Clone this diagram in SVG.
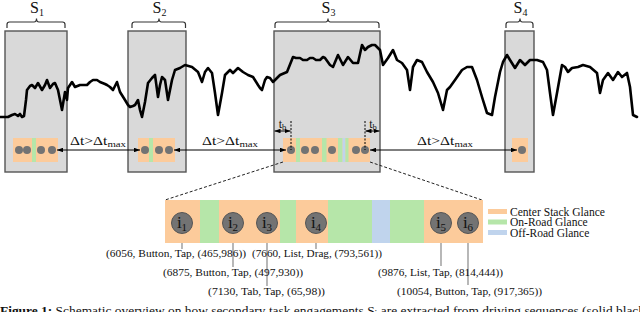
<svg xmlns="http://www.w3.org/2000/svg" width="640" height="312" viewBox="0 0 640 312">
<style>
.seg{fill:#d9d9d9;stroke:#555;stroke-width:1.4}
.brace{fill:none;stroke:#333;stroke-width:1.2}
.lbl{font-family:"Liberation Serif","DejaVu Serif",serif;fill:#111}
.sl{font-size:16px}
.sub{font-size:10px}
.or{fill:#fccb9b}
.gr{fill:#b6e6a9}
.bl{fill:#c0d4ed}
.sd{fill:#737373}
.bd{fill:#737373;stroke:#555;stroke-width:1}
.sig{fill:none;stroke:#000;stroke-width:2.6;stroke-linejoin:round;stroke-linecap:round}
.arr{stroke:#000;stroke-width:1;fill:none}
.dot{stroke:#000;stroke-width:1;stroke-dasharray:2 1.5;fill:none}
.dash{stroke:#222;stroke-width:1;stroke-dasharray:3 2;fill:none}
.con{stroke:#888;stroke-width:1.2;fill:none}
.t11{font-size:11px}
.tb{font-size:12px}
.dt{font-size:13px}
.leg{font-size:11.5px}
</style>
<defs>
<marker id="ah" viewBox="0 0 8 6" refX="8" refY="3" markerWidth="6" markerHeight="4.5" orient="auto-start-reverse" markerUnits="userSpaceOnUse">
<path d="M0,0 L8,3 L0,6 Z" fill="#000"/>
</marker>
</defs>
<rect width="640" height="312" fill="#fff"/>

<g id="S1">
<rect class="seg" x="5" y="31" width="62" height="141"/>
<path class="brace" d="M7,28 V24.5 Q7,22 9.5,22 H34 Q36.5,22 36.5,18.5 Q36.5,22 39,22 H62.5 Q65,22 65,24.5 V28"/>
<text class="lbl sl" x="37" y="13" text-anchor="middle">S<tspan class="sub" dy="3">1</tspan></text>
<rect class="or" x="13" y="138" width="45" height="24"/>
<rect class="gr" x="32" y="138" width="4" height="24"/>
<circle class="sd" cx="19" cy="150" r="4"/>
<circle class="sd" cx="27" cy="150" r="4"/>
<circle class="sd" cx="41" cy="150" r="4"/>
<circle class="sd" cx="52" cy="150" r="4"/>
</g>

<g id="S2">
<rect class="seg" x="128" y="31" width="58" height="141"/>
<path class="brace" d="M132,28 V24.5 Q132,22 134.5,22 H156.5 Q159,22 159,18.5 Q159,22 161.5,22 H183 Q185.5,22 185.5,24.5 V28"/>
<text class="lbl sl" x="159.5" y="13" text-anchor="middle">S<tspan class="sub" dy="3">2</tspan></text>
<rect class="or" x="138" y="138" width="37" height="24"/>
<rect class="gr" x="149" y="138" width="4" height="24"/>
<circle class="sd" cx="145" cy="150" r="4"/>
<circle class="sd" cx="159" cy="150" r="4"/>
<circle class="sd" cx="169" cy="150" r="4"/>
</g>

<g id="S3">
<rect class="seg" x="274" y="31" width="106" height="141"/>
<path class="brace" d="M275,28 V24.5 Q275,22 277.5,22 H325.5 Q328,22 328,18.5 Q328,22 330.5,22 H376.5 Q379,22 379,24.5 V28"/>
<text class="lbl sl" x="328.5" y="13" text-anchor="middle">S<tspan class="sub" dy="3">3</tspan></text>
<rect class="or" x="283" y="138" width="87" height="24"/>
<rect class="gr" x="296" y="138" width="4" height="24"/>
<rect class="gr" x="322" y="138" width="4.5" height="24"/>
<rect class="gr" x="338" y="138" width="4.5" height="24"/>
<rect class="bl" x="342.5" y="138" width="3" height="24"/>
<rect class="gr" x="345.5" y="138" width="3" height="24"/>
<circle class="sd" cx="291" cy="150" r="4"/>
<circle class="sd" cx="305" cy="150" r="4"/>
<circle class="sd" cx="315" cy="150" r="4"/>
<circle class="sd" cx="332" cy="150" r="4"/>
<circle class="sd" cx="356" cy="150" r="4"/>
<circle class="sd" cx="365" cy="150" r="4"/>
<line class="dot" x1="291" y1="121" x2="291" y2="150"/>
<line class="dot" x1="365" y1="121" x2="365" y2="150"/>
<text class="lbl tb" x="282.5" y="127.5" text-anchor="middle">t<tspan font-size="8.5" dy="2">b</tspan></text>
<text class="lbl tb" x="373" y="127.5" text-anchor="middle">t<tspan font-size="8.5" dy="2">b</tspan></text>
</g>

<g id="S4">
<rect class="seg" x="505" y="31" width="29" height="141"/>
<path class="brace" d="M506,28 V24.5 Q506,22 508.5,22 H517.5 Q520,22 520,18.5 Q520,22 522.5,22 H530.5 Q533,22 533,24.5 V28"/>
<text class="lbl sl" x="520.5" y="13" text-anchor="middle">S<tspan class="sub" dy="3">4</tspan></text>
<rect class="or" x="512" y="138" width="16" height="24"/>
<circle class="sd" cx="522" cy="150" r="4"/>
</g>

<g id="signal">
<polyline class="sig" points="0,117 8,117 12,115 15,114 18,116 20,114 22,117 24,116 26,100 27,90 30,86 32,85 35,88 38,83 42,90 45,85 47,80 50,88 53,84 55,83 58,90 60,100 62,110 65,92 67,100 68,88 72,82 75,87 80,85 87,85 90,82 93,80 97,80 100,82 105,84 107,85 110,87 113,90 115,86 117,82 120,92 125,100 128,105 130,107 133,106 135,105 138,100 140,110 142,117 145,102 148,83 152,78 155,75 158,97 160,85 162,77 165,80 168,100 170,90 172,80 175,70 180,68 185,65 192,67 198,72 202,82 205,72 208,68 212,73 215,93 218,115 222,93 225,75 230,70 233,73 238,68 243,72 248,75 253,77 258,85 260,88 262,90 265,80 267,77 270,78 273,82 275,80 280,75 287,72 293,57 296,58 300,58 303,60 307,60 310,58 313,58 316,60 320,60 323,57 325,58 330,65 333,67 338,55 343,65 348,57 353,63 358,63 362,45 365,50 368,47 372,45 375,45 380,50 383,65 388,58 393,50 397,60 402,63 407,70 410,90 413,67 417,60 422,62 427,72 433,82 438,93 443,110 447,90 450,87 455,80 462,70 467,67 472,67 477,80 482,97 487,113 492,115 495,97 500,72 503,62 507,55 510,60 515,68 520,60 525,65 530,60 537,60 543,62 547,70 550,93 553,115 557,93 562,65 565,67 568,72 572,68 578,67 583,65 590,67 597,73 600,93 603,80 608,73 613,80 618,72 622,77 627,73 630,87 633,115 637,117"/>
</g>

<g id="connectors">
<line class="arr" x1="57" y1="150" x2="140" y2="150" marker-start="url(#ah)" marker-end="url(#ah)"/>
<line class="arr" x1="174" y1="150" x2="286" y2="150" marker-start="url(#ah)" marker-end="url(#ah)"/>
<line class="arr" x1="370" y1="150" x2="517" y2="150" marker-start="url(#ah)" marker-end="url(#ah)"/>
<line class="arr" x1="274.5" y1="131" x2="290.5" y2="131" marker-start="url(#ah)" marker-end="url(#ah)"/>
<line class="arr" x1="365.5" y1="131" x2="379.5" y2="131" marker-start="url(#ah)" marker-end="url(#ah)"/>
<line class="dash" x1="283" y1="162" x2="165" y2="200"/>
<line class="dash" x1="370" y1="162" x2="482" y2="200"/>
<line class="con" x1="182" y1="233" x2="182" y2="249"/>
<line class="con" x1="233" y1="233" x2="233" y2="267"/>
<line class="con" x1="267" y1="233" x2="267" y2="286"/>
<line class="con" x1="316" y1="233" x2="316" y2="249"/>
<line class="con" x1="441" y1="233" x2="441" y2="266"/>
<line class="con" x1="468" y1="233" x2="468" y2="285"/>
</g>

<g id="dtlabels">
<text class="lbl dt" x="70" y="145" textLength="56" lengthAdjust="spacingAndGlyphs">Δt&gt;Δt<tspan font-size="9" dy="2">max</tspan></text>
<text class="lbl dt" x="202" y="145" textLength="56" lengthAdjust="spacingAndGlyphs">Δt&gt;Δt<tspan font-size="9" dy="2">max</tspan></text>
<text class="lbl dt" x="417" y="145" textLength="56" lengthAdjust="spacingAndGlyphs">Δt&gt;Δt<tspan font-size="9" dy="2">max</tspan></text>
</g>

<g id="expanded">
<rect class="or" x="165" y="200" width="318" height="43"/>
<rect class="gr" x="200" y="200" width="19" height="43"/>
<rect class="gr" x="280" y="200" width="16" height="43"/>
<rect class="gr" x="328" y="200" width="44" height="43"/>
<rect class="bl" x="372" y="200" width="18" height="43"/>
<rect class="gr" x="390" y="200" width="34" height="43"/>
</g>

<g id="i1"><circle class="bd" cx="182" cy="223" r="10.5"/><text class="lbl" font-size="17" x="182" y="228" text-anchor="middle">i<tspan font-size="11" dy="3">1</tspan></text></g>
<g id="i2"><circle class="bd" cx="233" cy="223" r="10.5"/><text class="lbl" font-size="17" x="233" y="228" text-anchor="middle">i<tspan font-size="11" dy="3">2</tspan></text></g>
<g id="i3"><circle class="bd" cx="267" cy="223" r="10.5"/><text class="lbl" font-size="17" x="267" y="228" text-anchor="middle">i<tspan font-size="11" dy="3">3</tspan></text></g>
<g id="i4"><circle class="bd" cx="316" cy="223" r="10.5"/><text class="lbl" font-size="17" x="316" y="228" text-anchor="middle">i<tspan font-size="11" dy="3">4</tspan></text></g>
<g id="i5"><circle class="bd" cx="441" cy="223" r="10.5"/><text class="lbl" font-size="17" x="441" y="228" text-anchor="middle">i<tspan font-size="11" dy="3">5</tspan></text></g>
<g id="i6"><circle class="bd" cx="468" cy="223" r="10.5"/><text class="lbl" font-size="17" x="468" y="228" text-anchor="middle">i<tspan font-size="11" dy="3">6</tspan></text></g>

<g id="events">
<text class="lbl t11" x="106" y="256.5" textLength="140" lengthAdjust="spacingAndGlyphs">(6056, Button, Tap, (465,986))</text>
<text class="lbl t11" x="252" y="256.5" textLength="130" lengthAdjust="spacingAndGlyphs">(7660, List, Drag, (793,561))</text>
<text class="lbl t11" x="163" y="275.5" textLength="140" lengthAdjust="spacingAndGlyphs">(6875, Button, Tap, (497,930))</text>
<text class="lbl t11" x="378" y="275.5" textLength="125" lengthAdjust="spacingAndGlyphs">(9876, List, Tap, (814,444))</text>
<text class="lbl t11" x="208" y="294.5" textLength="117" lengthAdjust="spacingAndGlyphs">(7130, Tab, Tap, (65,98))</text>
<text class="lbl t11" x="397" y="294.5" textLength="145" lengthAdjust="spacingAndGlyphs">(10054, Button, Tap, (917,365))</text>
</g>

<g id="legend">
<rect class="or" x="488" y="209" width="19" height="5"/>
<rect class="gr" x="488" y="219.5" width="19" height="5"/>
<rect class="bl" x="488" y="230" width="19" height="5"/>
<text class="lbl leg" x="510" y="215.5" textLength="95" lengthAdjust="spacingAndGlyphs">Center Stack Glance</text>
<text class="lbl leg" x="510" y="226">On-Road Glance</text>
<text class="lbl leg" x="510" y="236.5">Off-Road Glance</text>
</g>

<g id="caption">
<text class="lbl" font-size="13.5" x="0" y="314.5" textLength="645" lengthAdjust="spacingAndGlyphs"><tspan font-weight="bold">Figure 1:</tspan> Schematic overview on how secondary task engagements S<tspan font-size="10" dy="2">i</tspan><tspan dy="-2"> are extracted from driving sequences (solid black</tspan></text>
</g>
</svg>
